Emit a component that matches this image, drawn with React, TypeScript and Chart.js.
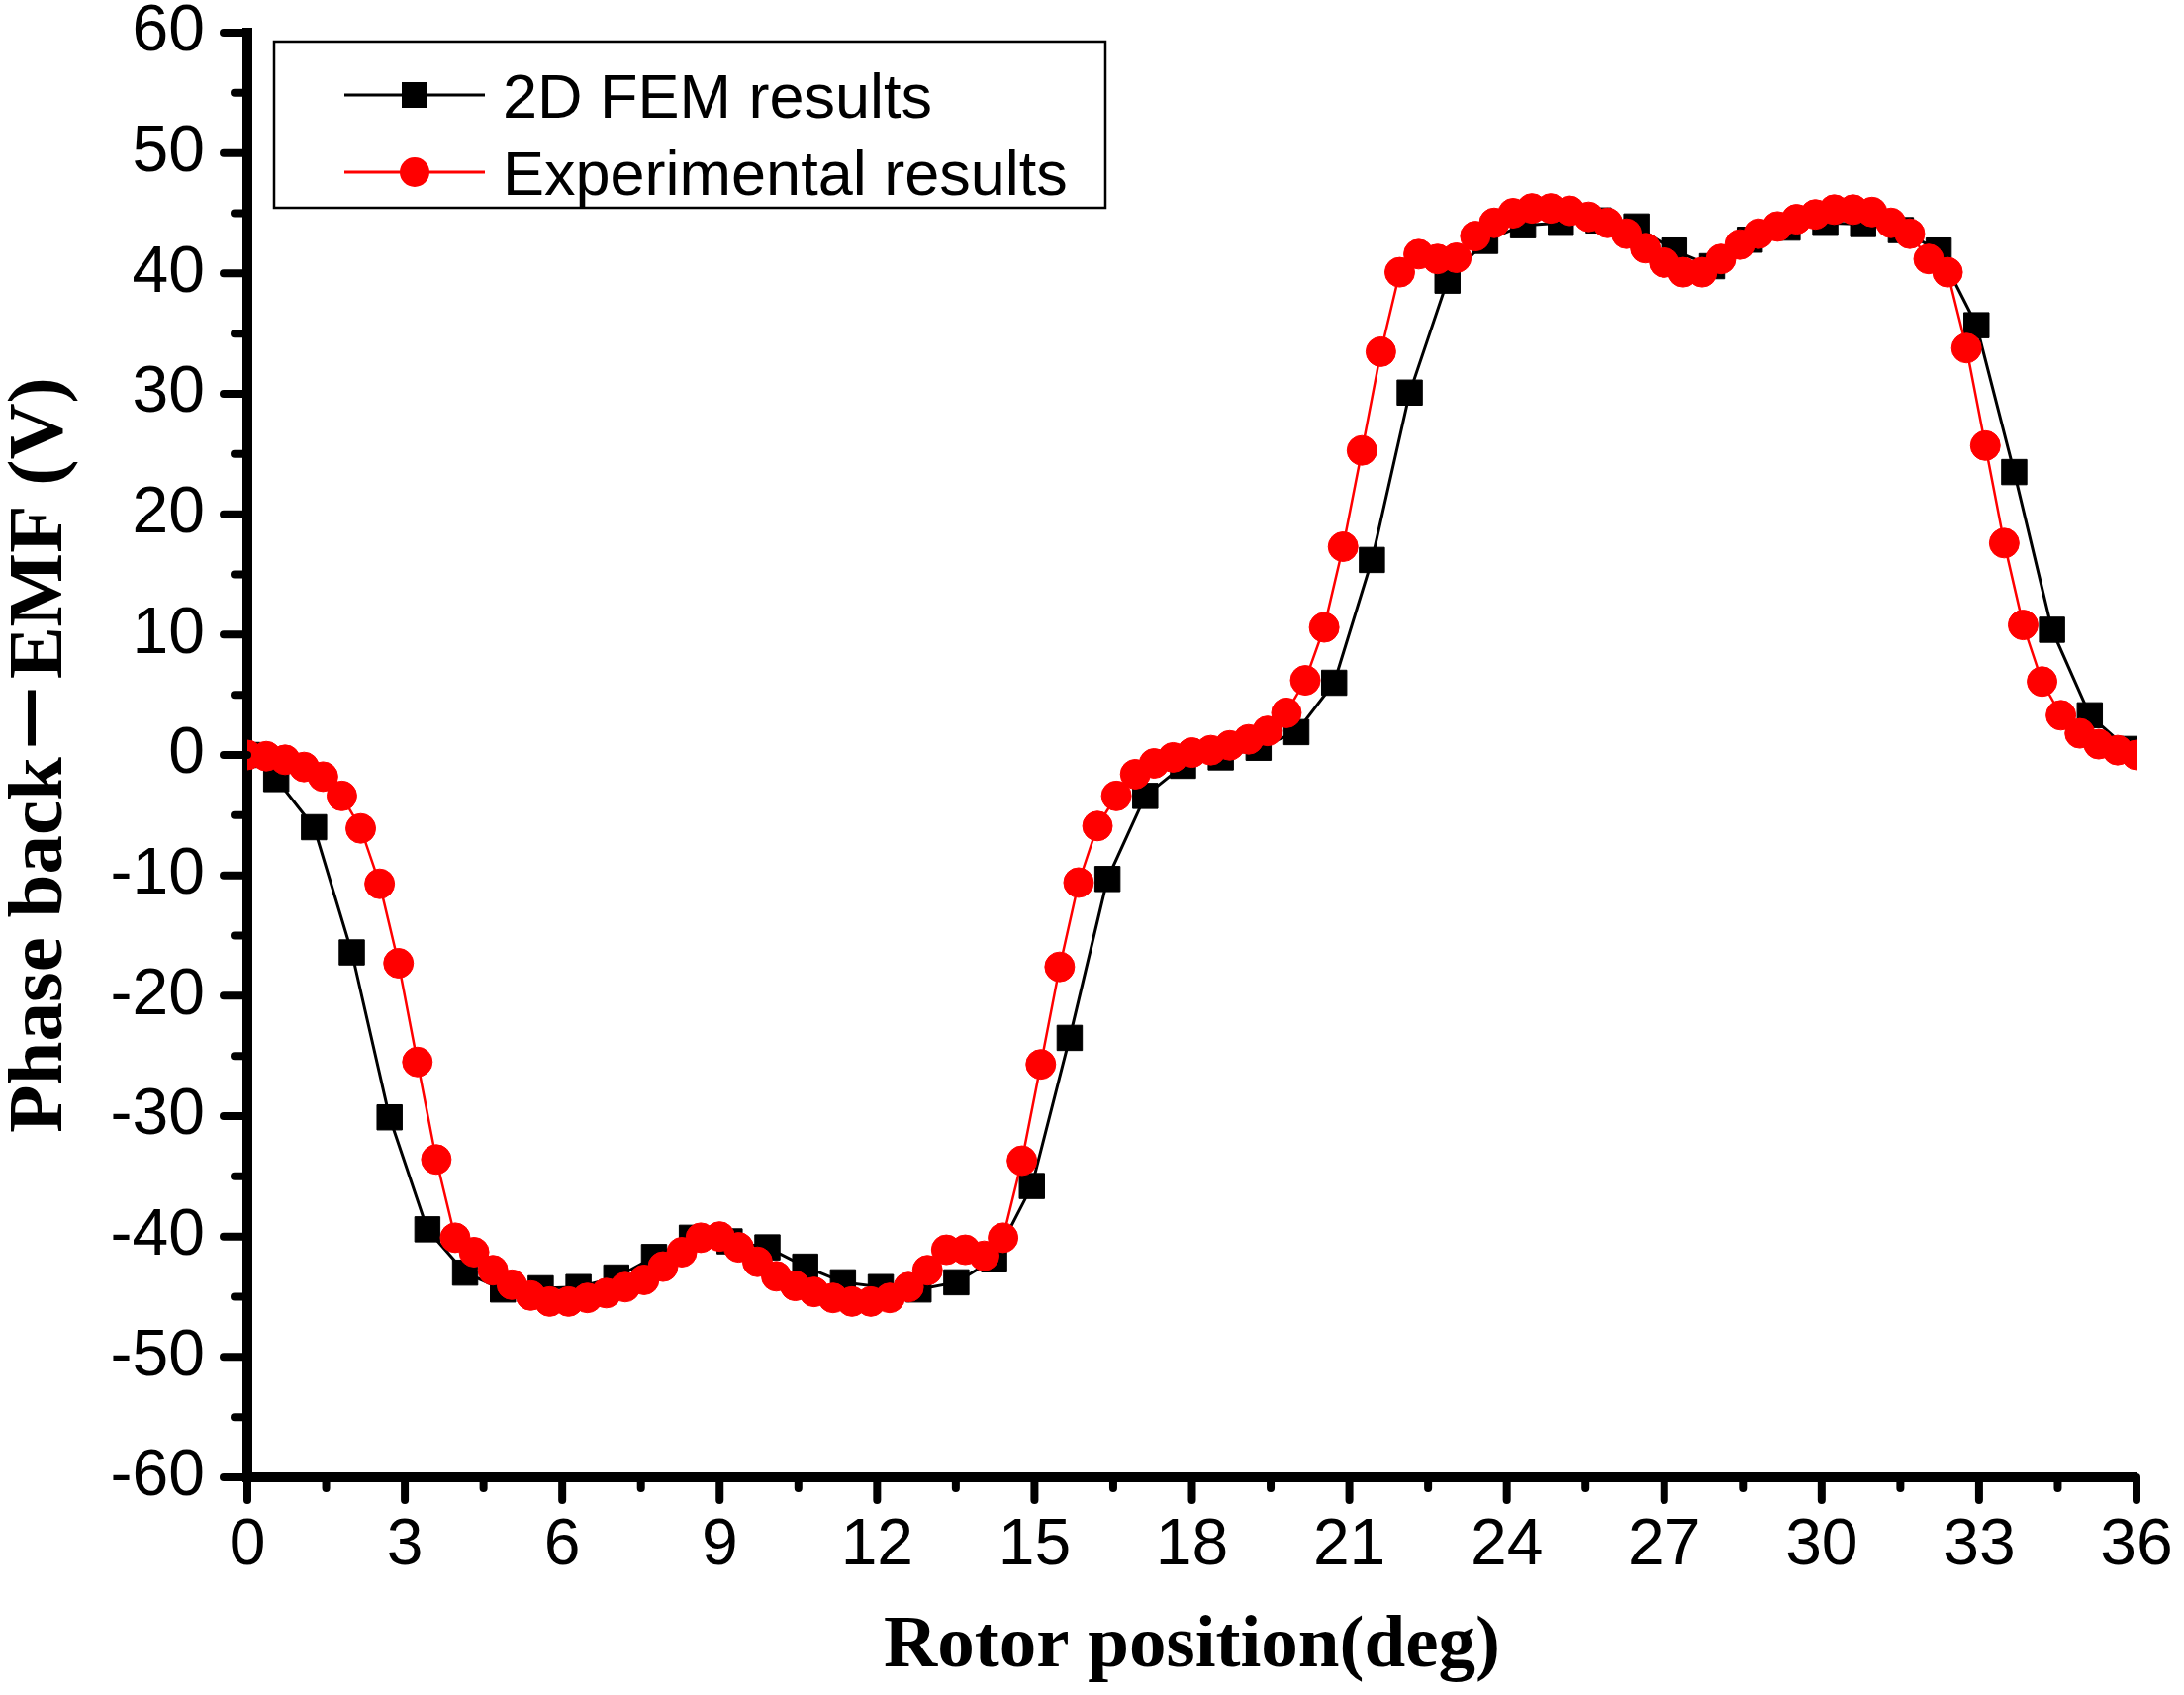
import React, { useEffect, useRef } from 'react';
import { Chart, registerables } from 'chart.js';

Chart.register(...registerables);

// ---- data ----
const seriesLabels = ['2D FEM results', 'Experimental results'];

// 2D FEM results (black squares): rotor position (deg)
const femX = [
  0, 0.55, 1.27, 1.99, 2.71, 3.43, 4.15, 4.87, 5.59, 6.31, 7.03,
  7.75, 8.47, 9.19, 9.91, 10.63, 11.35, 12.07, 12.79, 13.51, 14.23,
  14.95, 15.67, 16.39, 17.11, 17.83, 18.55, 19.27, 19.99, 20.71, 21.43,
  22.15, 22.87, 23.59, 24.31, 25.03, 25.75, 26.47, 27.19, 27.91, 28.63,
  29.35, 30.07, 30.79, 31.51, 32.23, 32.95, 33.67, 34.39, 35.11, 35.83,
];
// 2D FEM results: phase back-EMF (V)
const femY = [
  0, -2.0, -6.0, -16.4, -30.1, -39.4, -43.0, -44.4, -44.3, -44.2, -43.4,
  -41.7, -40.1, -40.4, -40.9, -42.5, -43.8, -44.2, -44.4, -43.8, -41.9,
  -35.8, -23.5, -10.3, -3.4, -0.9, -0.2, 0.6, 1.9, 6.0, 16.2,
  30.1, 39.4, 42.7, 44.0, 44.2, 44.4, 43.9, 41.9, 40.6, 42.8,
  43.8, 44.2, 44.1, 43.6, 41.9, 35.7, 23.5, 10.4, 3.3, 0.5,
];

// Experimental results (red circles): rotor position (deg)
const expX = [
  0, 0.36, 0.72, 1.08, 1.44, 1.8, 2.16, 2.52, 2.88, 3.24,
  3.6, 3.96, 4.32, 4.68, 5.04, 5.4, 5.76, 6.12, 6.48, 6.84,
  7.2, 7.56, 7.92, 8.28, 8.64, 9.0, 9.36, 9.72, 10.08, 10.44,
  10.8, 11.16, 11.52, 11.88, 12.24, 12.6, 12.96, 13.32, 13.68, 14.04,
  14.4, 14.76, 15.12, 15.48, 15.84, 16.2, 16.56, 16.92, 17.28, 17.64,
  18.0, 18.36, 18.72, 19.08, 19.44, 19.8, 20.16, 20.52, 20.88, 21.24,
  21.6, 21.96, 22.32, 22.68, 23.04, 23.4, 23.76, 24.12, 24.48, 24.84,
  25.2, 25.56, 25.92, 26.28, 26.64, 27.0, 27.36, 27.72, 28.08, 28.44,
  28.8, 29.16, 29.52, 29.88, 30.24, 30.6, 30.96, 31.32, 31.68, 32.04,
  32.4, 32.76, 33.12, 33.48, 33.84, 34.2, 34.56, 34.92, 35.28, 35.64,
  36.0,
];
// Experimental results: phase back-EMF (V)
const expY = [
  0.0, -0.1, -0.4, -1.0, -1.8, -3.4, -6.1, -10.7, -17.3, -25.5,
  -33.6, -40.1, -41.3, -42.8, -44.0, -44.9, -45.4, -45.4, -45.1, -44.7,
  -44.2, -43.6, -42.5, -41.3, -40.1, -40.0, -40.9, -42.1, -43.3, -44.1,
  -44.6, -45.1, -45.4, -45.4, -45.1, -44.2, -42.8, -41.1, -41.1, -41.6,
  -40.1, -33.7, -25.7, -17.6, -10.6, -5.9, -3.4, -1.6, -0.7, -0.2,
  0.2, 0.4, 0.8, 1.3, 2.0, 3.5, 6.2, 10.6, 17.3, 25.3,
  33.5, 40.1, 41.6, 41.2, 41.3, 43.1, 44.2, 45.0, 45.4, 45.4,
  45.2, 44.7, 44.2, 43.3, 42.1, 40.9, 40.1, 40.1, 41.2, 42.4,
  43.3, 43.9, 44.5, 44.9, 45.3, 45.3, 45.1, 44.2, 43.3, 41.2,
  40.1, 33.8, 25.7, 17.6, 10.8, 6.1, 3.3, 1.8, 0.9, 0.4,
  0.0,
];

const xAxisTitle = 'Rotor position(deg)';
const yAxisTitle = 'Phase back\uFF0DEMF (V)';

// ---- plugins ----
const axisTicksPlugin = {
  id: 'axisTicks',
  afterDraw(chart: any) {
    const ctx = chart.ctx;
    const { bottom, left } = chart.chartArea;
    const xs = chart.scales.x;
    const ys = chart.scales.y;
    ctx.save();
    ctx.strokeStyle = '#000';
    ctx.lineWidth = 8;
    ctx.lineCap = 'round';
    const drawX = (v: number, len: number) => {
      const px = xs.getPixelForValue(v);
      ctx.beginPath();
      ctx.moveTo(px, bottom);
      ctx.lineTo(px, bottom + len);
      ctx.stroke();
    };
    const drawY = (v: number, len: number) => {
      const py = ys.getPixelForValue(v);
      ctx.beginPath();
      ctx.moveTo(left, py);
      ctx.lineTo(left - len, py);
      ctx.stroke();
    };
    const xt = xs.ticks.map((t: any) => t.value);
    xt.forEach((v: number, i: number) => {
      drawX(v, 23);
      if (i < xt.length - 1) drawX((v + xt[i + 1]) / 2, 11);
    });
    const yt = ys.ticks.map((t: any) => t.value);
    yt.forEach((v: number, i: number) => {
      drawY(v, 24);
      if (i < yt.length - 1) drawY((v + yt[i + 1]) / 2, 13);
    });
    ctx.restore();
  },
};

const boxLegendPlugin = {
  id: 'boxLegend',
  afterDraw(chart: any) {
    const ctx = chart.ctx;
    const ds = chart.data.datasets;
    ctx.save();
    ctx.fillStyle = '#fff';
    ctx.fillRect(277, 42, 840, 168);
    ctx.strokeStyle = '#000';
    ctx.lineWidth = 2.5;
    ctx.strokeRect(277, 42, 840, 168);
    const rows = [96, 174];
    ds.forEach((d: any, i: number) => {
      const y = rows[i];
      ctx.strokeStyle = d.borderColor;
      ctx.lineWidth = 3;
      ctx.beginPath();
      ctx.moveTo(348, y);
      ctx.lineTo(490, y);
      ctx.stroke();
      ctx.fillStyle = d.pointBackgroundColor;
      if (d.pointStyle === 'rect') {
        ctx.fillRect(419 - 13, y - 13, 26, 26);
      } else {
        ctx.beginPath();
        ctx.arc(419, y, 15, 0, Math.PI * 2);
        ctx.fill();
      }
      ctx.fillStyle = '#000';
      ctx.font = '63px "Liberation Sans", Arial, sans-serif';
      ctx.textAlign = 'left';
      ctx.textBaseline = 'alphabetic';
      ctx.fillText(d.label, 508, y + 23);
    });
    ctx.restore();
  },
};

export default function App() {
  const canvasRef = useRef<HTMLCanvasElement | null>(null);

  useEffect(() => {
    document.body.style.margin = '0';
    document.body.style.overflow = 'hidden';
    const canvas = canvasRef.current;
    if (!canvas) return;

    const sansFamily = '"Liberation Sans", Arial, sans-serif';
    const titleFamily = '"Liberation Serif", "Times New Roman", "Noto Sans CJK SC", serif';

    const chart = new Chart(canvas, {
      type: 'line',
      data: {
        datasets: [
          {
            label: seriesLabels[0],
            data: femX.map((x, i) => ({ x, y: femY[i] })),
            borderColor: '#000000',
            backgroundColor: '#000000',
            borderWidth: 3,
            pointStyle: 'rect',
            pointRadius: 18,
            pointBorderWidth: 1,
            pointBackgroundColor: '#000000',
            pointBorderColor: '#000000',
            tension: 0,
            clip: 0,
            order: 1,
          },
          {
            label: seriesLabels[1],
            data: expX.map((x, i) => ({ x, y: expY[i] })),
            borderColor: '#ff0000',
            backgroundColor: '#ff0000',
            borderWidth: 2.5,
            pointStyle: 'circle',
            pointRadius: 15,
            pointBorderWidth: 1,
            pointBackgroundColor: '#ff0000',
            pointBorderColor: '#ff0000',
            tension: 0,
            clip: 0,
            order: 0,
          },
        ] as any,
      },
      options: {
        animation: false,
        responsive: false,
        maintainAspectRatio: false,
        devicePixelRatio: 1,
        layout: { padding: { left: 0, right: 48, top: 33, bottom: 0 } },
        plugins: {
          legend: { display: false },
          tooltip: { enabled: false },
        },
        scales: {
          x: {
            type: 'linear',
            min: 0,
            max: 36,
            ticks: {
              stepSize: 3,
              autoSkip: false,
              maxRotation: 0,
              padding: 9,
              color: '#000',
              font: { family: sansFamily, size: 66, lineHeight: 1 },
            },
            grid: {
              display: true,
              drawOnChartArea: false,
              drawTicks: true,
              tickLength: 28,
              tickColor: 'rgba(0,0,0,0)',
            },
            border: { display: true, width: 10, color: '#000' },
            title: {
              display: true,
              text: xAxisTitle,
              color: '#000',
              font: { family: titleFamily, size: 75, weight: 'bold', lineHeight: 1 },
              padding: { top: 0, bottom: 11 },
            },
            afterFit: (s: any) => {
              s.height = 220;
            },
          },
          y: {
            type: 'linear',
            min: -60,
            max: 60,
            ticks: {
              stepSize: 10,
              padding: 15,
              color: '#000',
              font: { family: sansFamily, size: 66, lineHeight: 0.5 },
            },
            grid: {
              display: true,
              drawOnChartArea: false,
              drawTicks: true,
              tickLength: 28,
              tickColor: 'rgba(0,0,0,0)',
            },
            border: { display: true, width: 10, color: '#000' },
            title: {
              display: true,
              text: yAxisTitle,
              color: '#000',
              font: { family: titleFamily, size: 79, weight: 'bold', lineHeight: 1 },
              padding: { top: 2, bottom: 0 },
            },
            afterFit: (s: any) => {
              s.width = 250;
            },
          },
        },
      } as any,
      plugins: [axisTicksPlugin, boxLegendPlugin],
    });

    return () => {
      chart.destroy();
    };
  }, []);

  return (
    <div style={{ width: 2207, height: 1713, background: '#fff' }}>
      <canvas ref={canvasRef} width={2207} height={1713} style={{ display: 'block', width: 2207, height: 1713 }} />
    </div>
  );
}
